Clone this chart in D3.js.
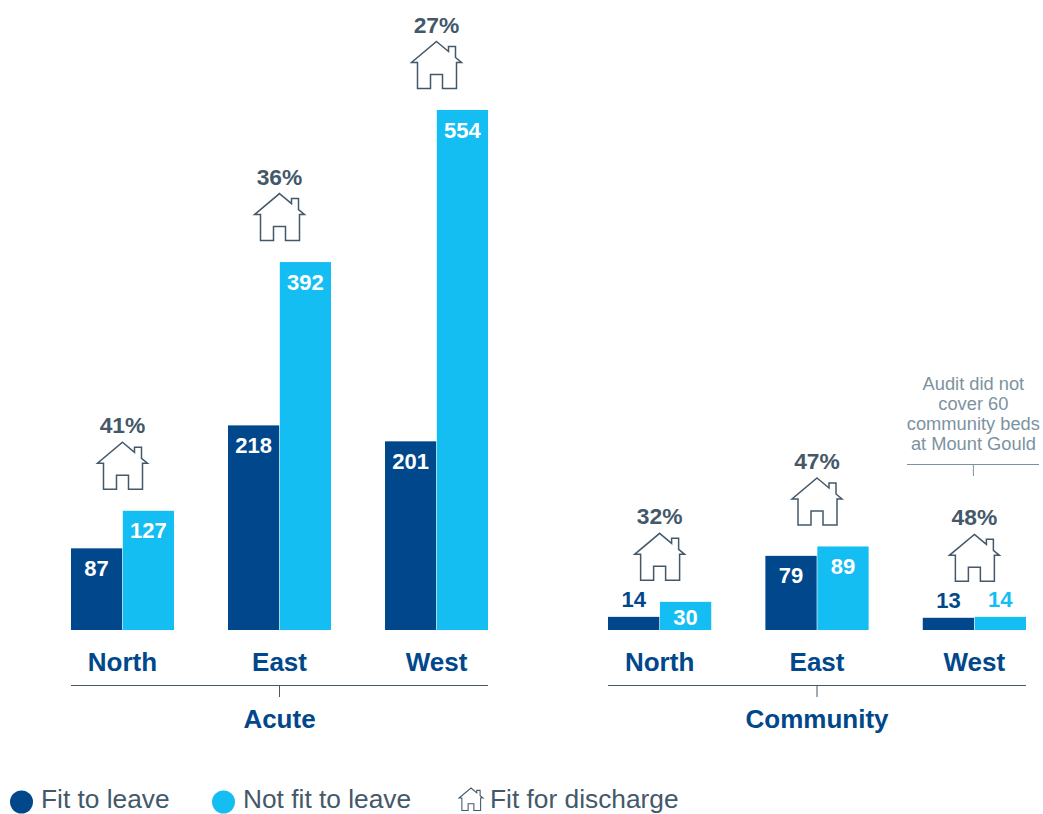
<!DOCTYPE html>
<html>
<head>
<meta charset="utf-8">
<script src="https://cdn.jsdelivr.net/npm/d3@7"></script>
<style>
    html, body { margin: 0; padding: 0; background: #fff; overflow: hidden; }
    text { font-family: "Liberation Sans", Arial, sans-serif; }
</style>
</head>
<body>
<div id="chart"></div>
<script>
let regions = ['North', 'East', 'West'];
let series = ['Fit to leave', 'Not fit to leave'];
let acute_fit = [87, 218, 201];
let acute_not_fit = [127, 392, 554];
let acute_discharge = ['41%', '36%', '27%'];
let community_fit = [14, 79, 13];
let community_not_fit = [30, 89, 14];
let community_discharge = ['32%', '47%', '48%'];
let note_lines = ['Audit did not', 'cover 60', 'community beds', 'at Mount Gould'];

const DARK = '#00488b';
const LIGHT = '#14bdf2';
const SLATE = '#44586a';
const NOTE = '#7d929f';

// relative to the roof apex
const house_path = 'M0,0L12,10L12,5L19,5L19,16L25,21L20,21L20,47L6,47L6,33L-6,33L-6,47L-19,47L-19,21L-25,21Z';

let svgWidth = 1043;
let svgHeight = 814;
let svg = d3.select('#chart').append('svg')
    .attr('width', svgWidth)
    .attr('height', svgHeight);

let y = d3.scaleLinear()
    .domain([0, 554])
    .range([630, 110]);

function draw_panel(name, fit, not_fit, discharge, left, right) {
    let x = d3.scaleBand()
        .domain(regions)
        .range([left, right])
        .paddingInner(0.344);
    let x1 = d3.scaleBand()
        .domain(series)
        .range([0, x.bandwidth()])
        .paddingInner(0.012);

    let rows = regions.map((r, i) => ({region: r, values: [fit[i], not_fit[i]], pct: discharge[i]}));
    let g = svg.append('g');

    rows.forEach(row => {
        let group = g.append('g')
            .attr('transform', `translate(${x(row.region)}, 0)`);
        let bars = row.values.map((v, i) => ({value: v, name: series[i], color: i == 0 ? DARK : LIGHT}));

        group.selectAll('rect')
            .data(bars)
            .enter()
            .append('rect')
            .attr('x', d => x1(d.name))
            .attr('y', d => y(d.value))
            .attr('width', x1.bandwidth())
            .attr('height', d => y(0) - y(d.value))
            .attr('fill', d => d.color);

        // short bars get the number above them
        group.selectAll('text.value')
            .data(bars)
            .enter()
            .append('text')
            .attr('class', 'value')
            .attr('x', d => x1(d.name) + x1.bandwidth() / 2)
            .attr('y', d => {
                if (d.value < 20) return y(d.value) - 10;
                if (d.value < 50) return y(d.value) + 23;
                return y(d.value) + 27.5;
            })
            .attr('text-anchor', 'middle')
            .attr('font-size', 22)
            .attr('font-weight', 'bold')
            .attr('fill', d => d.value < 20 ? d.color : '#fff')
            .text(d => d.value);

        // house and percentage sit on the taller bar
        let top = y(d3.max(row.values));
        if (d3.max(row.values) < 20) top -= 14;
        let cx = x.bandwidth() / 2;
        group.append('path')
            .attr('d', house_path)
            .attr('transform', `translate(${cx}, ${top - 68.5})`)
            .attr('fill', 'none')
            .attr('stroke', SLATE)
            .attr('stroke-width', 1.5);
        group.append('text')
            .attr('x', cx)
            .attr('y', top - 77.5)
            .attr('text-anchor', 'middle')
            .attr('font-size', 22.8)
            .attr('font-weight', 'bold')
            .attr('fill', SLATE)
            .text(row.pct);
    });

    // region labels, bracket and panel name
    let axis = d3.axisBottom(x).tickSize(0).tickPadding(0);
    let axis_g = g.append('g')
        .attr('transform', 'translate(0, 671)')
        .call(axis);
    axis_g.select('.domain').remove();
    axis_g.selectAll('text')
        .attr('dy', 0)
        .attr('y', 0)
        .attr('font-size', 26)
        .attr('font-weight', 'bold')
        .attr('font-family', '"Liberation Sans", Arial, sans-serif')
        .attr('fill', DARK);

    let mid = (left + right) / 2;
    g.append('line')
        .attr('x1', left).attr('x2', right)
        .attr('y1', 685.5).attr('y2', 685.5)
        .attr('stroke', SLATE);
    g.append('line')
        .attr('x1', mid).attr('x2', mid)
        .attr('y1', 685.5).attr('y2', 697)
        .attr('stroke', SLATE);
    g.append('text')
        .attr('x', mid)
        .attr('y', 728)
        .attr('text-anchor', 'middle')
        .attr('font-size', 26)
        .attr('font-weight', 'bold')
        .attr('fill', DARK)
        .text(name);

    return x;
}

draw_panel('Acute', acute_fit, acute_not_fit, acute_discharge, 71, 488);
let x_community = draw_panel('Community', community_fit, community_not_fit, community_discharge, 608, 1026);

// note over community west
let note_x = x_community('West') + x_community.bandwidth() / 2 - 1;
svg.append('g')
    .selectAll('text')
    .data(note_lines)
    .enter()
    .append('text')
    .attr('x', note_x)
    .attr('y', (d, i) => 390 + i * 20)
    .attr('text-anchor', 'middle')
    .attr('font-size', 18.3)
    .attr('fill', NOTE)
    .text(d => d);
svg.append('line')
    .attr('x1', 907).attr('x2', 1039)
    .attr('y1', 464.5).attr('y2', 464.5)
    .attr('stroke', NOTE);
svg.append('line')
    .attr('x1', note_x).attr('x2', note_x)
    .attr('y1', 464.5).attr('y2', 476)
    .attr('stroke', NOTE);

// legend
let legend_y = 808;
svg.append('circle').attr('cx', 21.5).attr('cy', 802).attr('r', 11.5).attr('fill', DARK);
svg.append('text').attr('x', 41).attr('y', legend_y).attr('font-size', 26.3).attr('fill', SLATE).text(series[0]);
svg.append('circle').attr('cx', 223.5).attr('cy', 802).attr('r', 11.5).attr('fill', LIGHT);
svg.append('text').attr('x', 243).attr('y', legend_y).attr('font-size', 26.3).attr('fill', SLATE).text(series[1]);
svg.append('path')
    .attr('d', house_path)
    .attr('transform', 'translate(471, 788) scale(0.48)')
    .attr('fill', 'none')
    .attr('stroke', SLATE)
    .attr('stroke-width', 2.2);
svg.append('text').attr('x', 490).attr('y', legend_y).attr('font-size', 26.3).attr('fill', SLATE).text('Fit for discharge');
</script>
</body>
</html>
